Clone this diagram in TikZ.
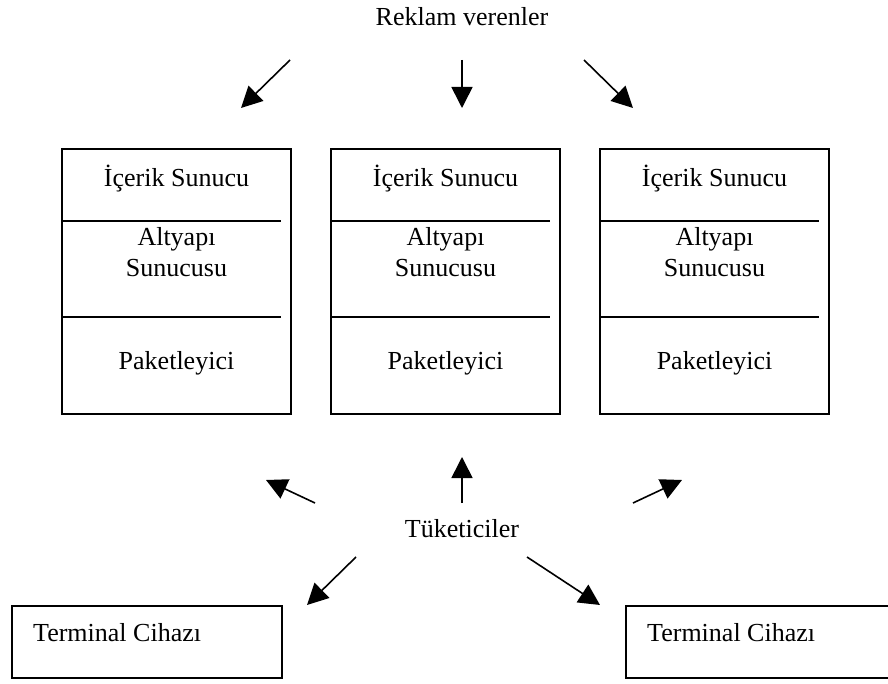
\documentclass[tikz,border=0pt]{standalone}
\usepackage{fontspec}
\setmainfont{Liberation Serif}
\usetikzlibrary{arrows.meta}
\begin{document}
\begin{tikzpicture}[x=1pt,y=-1pt,
  lbl/.style={inner sep=0pt,anchor=base,font=\fontsize{26}{28}\selectfont},
  srvbox/.style={draw,line width=2pt,minimum width=229pt,minimum height=265pt,inner sep=0pt},
  termbox/.style={draw,line width=2pt,minimum height=72pt,inner sep=0pt},
  divider/.style={line width=1.7pt},
  flow/.style={line width=1.6pt,-{Triangle[length=21pt,width=21pt]}}]
\clip (0,0) rectangle (888,684);
\fill[white] (0,0) rectangle (888,684);

% three server stacks
\foreach \n/\cx in {1/176.5,2/445.5,3/714.5}{
  \node[srvbox] (s\n) at (\cx,281.5) {};
  \draw[divider] (s\n.west |- 0,221) -- ++(220,0);
  \draw[divider] (s\n.west |- 0,317) -- ++(220,0);
  \node[lbl] (c\n) at (\cx,187) {İçerik Sunucu};
  \node[lbl] (a\n) at (\cx,246) {Altyapı};
  \node[lbl] (u\n) at (\cx,277) {Sunucusu};
  \node[lbl] (p\n) at (\cx,369) {Paketleyici};
}

% advertisers
\node[lbl] (adv) at (462,26) {Reklam verenler};
\coordinate (t1s) at (290,60);  \coordinate (t1e) at (241,108);
\coordinate (t2s) at (462,60);  \coordinate (t2e) at (462,108);
\coordinate (t3s) at (584,60);  \coordinate (t3e) at (633,108);
\draw[flow] (t1s) -- (t1e);
\draw[flow] (t2s) -- (t2e);
\draw[flow] (t3s) -- (t3e);

% consumers
\node[lbl] (cons) at (462,537) {Tüketiciler};
\coordinate (b1s) at (315,503); \coordinate (b1e) at (266,480);
\coordinate (b2s) at (462,503); \coordinate (b2e) at (462,457);
\coordinate (b3s) at (633,503); \coordinate (b3e) at (682,480);
\coordinate (b4s) at (356,557); \coordinate (b4e) at (307,605);
\coordinate (b5s) at (527,557); \coordinate (b5e) at (600,605);
\draw[flow] (b1s) -- (b1e);
\draw[flow] (b2s) -- (b2e);
\draw[flow] (b3s) -- (b3e);
\draw[flow] (b4s) -- (b4e);
\draw[flow] (b5s) -- (b5e);

% terminal devices
\node[termbox,minimum width=270pt] (term1) at (147,642) {};
\node[termbox,minimum width=274pt] (term2) at (763,642) {};
\node[lbl,anchor=base west] (tt1) at (33,641) {Terminal Cihazı};
\node[lbl,anchor=base west] (tt2) at (647,641) {Terminal Cihazı};
\end{tikzpicture}
\end{document}
